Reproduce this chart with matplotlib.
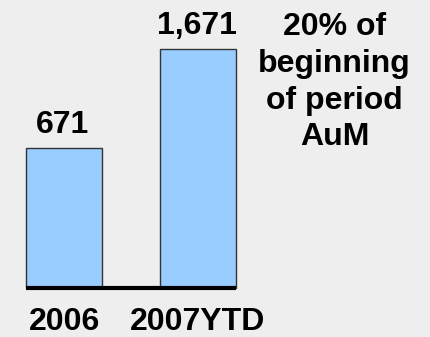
import numpy as np
import matplotlib.pyplot as plt

plt.rcParams['font.family'] = ['Liberation Sans', 'DejaVu Sans']

# Data
categories = ['2006', '2007YTD']
values = np.array([671, 1671])
value_labels = ['671', '1,671']
note = '20% of\nbeginning\nof period\nAuM'

# The chart's value axis does not start at zero
base = -743

fig = plt.figure(figsize=(4.3, 3.37), dpi=100, facecolor='#eeeeee')
ax = fig.add_axes([0, 0, 1, 1])
ax.set_facecolor('#eeeeee')

x = np.arange(len(categories))
w = 0.567
ax.bar(x, values - base, bottom=base, width=w, color='#99ccff',
       edgecolor='#333333', linewidth=1, zorder=2)
ax.hlines(base, x[0] - w / 2, x[-1] + w / 2, color='black', lw=3, zorder=3)

for xi, v, lab in zip(x, values, value_labels):
    ax.annotate(lab, (xi, v), xytext=(-1, 5.5), textcoords='offset points',
                ha='center', va='bottom', fontsize=23, fontweight='bold')
for xi, cat in zip(x, categories):
    ax.annotate(cat, (xi, base), xytext=(0, -13.5), textcoords='offset points',
                ha='center', va='top', fontsize=23, fontweight='bold')

ax.annotate(note, (2.02, values[-1]), xytext=(0, 26.5), textcoords='offset points',
            ha='center', va='top', fontsize=23, fontweight='bold', linespacing=1.29)

ax.set_xlim(-0.478, 2.731)
ax.set_ylim(-1238, 2166)
ax.axis('off')

fig.savefig('out.png', dpi=100, facecolor=fig.get_facecolor())
